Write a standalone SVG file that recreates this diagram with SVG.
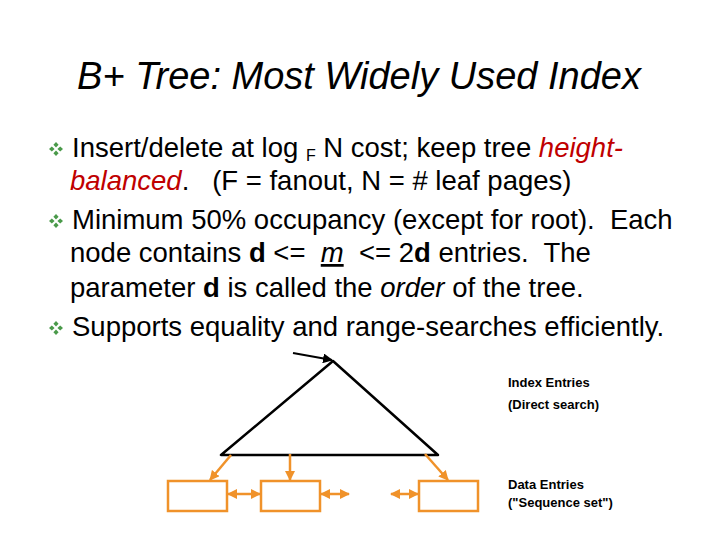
<svg xmlns="http://www.w3.org/2000/svg" width="720" height="540" viewBox="0 0 720 540">
<style>
.t{font-family:"Liberation Sans",Arial,sans-serif;font-size:27.5px;fill:#000;white-space:pre}
.s{font-family:"Liberation Sans",Arial,sans-serif;font-size:13px;font-weight:bold;fill:#000}
.o{stroke:#f0922a;stroke-width:2.5;fill:none}
.r{fill:#c00000;font-style:italic}
</style>
<defs>
<marker id="oa" viewBox="0 0 10 10" refX="9" refY="5" markerWidth="4" markerHeight="4" orient="auto-start-reverse"><path d="M0,0L10,5L0,10z" fill="#f0922a"/></marker>
<marker id="ka" viewBox="0 0 10 10" refX="9" refY="5" markerWidth="5" markerHeight="5" orient="auto"><path d="M0,0L10,5L0,10z" fill="#000"/></marker>
<g id="bul"><g fill="#4a9a4a"><path d="M0,-7L2.6,-4.2L0,-1.4L-2.6,-4.2z"/><path d="M0,7L2.6,4.2L0,1.4L-2.6,4.2z"/><path d="M-7,0L-4.2,2.6L-1.4,0L-4.2,-2.6z"/><path d="M7,0L4.2,2.6L1.4,0L4.2,-2.6z"/></g></g>
</defs>
<text x="359" y="89" text-anchor="middle" style="font-family:'Liberation Sans',Arial,sans-serif;font-size:38px;font-style:italic">B+ Tree: Most Widely Used Index</text>
<use href="#bul" x="56" y="149"/>
<use href="#bul" x="56" y="221"/>
<use href="#bul" x="56" y="328"/>
<text class="t" x="72" y="157">Insert/delete at log <tspan font-size="16" dy="4">F</tspan><tspan dy="-4"> N cost; keep tree </tspan><tspan class="r">height-</tspan></text>
<text class="t" x="70" y="190"><tspan class="r">balanced</tspan>.   (F = fanout, N = # leaf pages)</text>
<text class="t" x="72" y="229">Minimum 50% occupancy (except for root).  Each</text>
<text class="t" x="70" y="262">node contains <tspan font-weight="bold">d</tspan> &lt;=  <tspan font-style="italic" text-decoration="underline">m</tspan>  &lt;= 2<tspan font-weight="bold">d</tspan> entries.  The</text>
<text class="t" x="70" y="297">parameter <tspan font-weight="bold">d</tspan> is called the <tspan font-style="italic">order</tspan> of the tree.</text>
<text class="t" x="72" y="336">Supports equality and range-searches efficiently.</text>
<g id="index"><path d="M333,361L221,455H438Z" fill="none" stroke="#000" stroke-width="2.5" stroke-linejoin="round"/></g>
<g id="leaf1"><rect x="168" y="481" width="59" height="30" class="o"/></g>
<g id="leaf2"><rect x="261" y="481" width="59" height="30" class="o"/></g>
<g id="leaf3"><rect x="419" y="481" width="59" height="30" class="o"/></g>
<g id="labels">
<text class="s" x="508" y="387">Index Entries</text>
<text class="s" x="508" y="409">(Direct search)</text>
<text class="s" x="508" y="489">Data Entries</text>
<text class="s" x="508" y="507">("Sequence set")</text>
</g>
<g id="connectors">
<line x1="293" y1="353" x2="332" y2="360" stroke="#000" stroke-width="2" marker-end="url(#ka)"/>
<line x1="231" y1="455" x2="210" y2="480" class="o" marker-end="url(#oa)"/>
<line x1="290" y1="454" x2="290" y2="480" class="o" marker-end="url(#oa)"/>
<line x1="425" y1="454" x2="448" y2="480" class="o" marker-end="url(#oa)"/>
<line x1="228" y1="494" x2="260" y2="494" class="o" marker-start="url(#oa)" marker-end="url(#oa)"/>
<line x1="321" y1="494" x2="349" y2="494" class="o" marker-start="url(#oa)" marker-end="url(#oa)"/>
<line x1="391" y1="494" x2="418" y2="494" class="o" marker-start="url(#oa)" marker-end="url(#oa)"/>
</g>
</svg>
